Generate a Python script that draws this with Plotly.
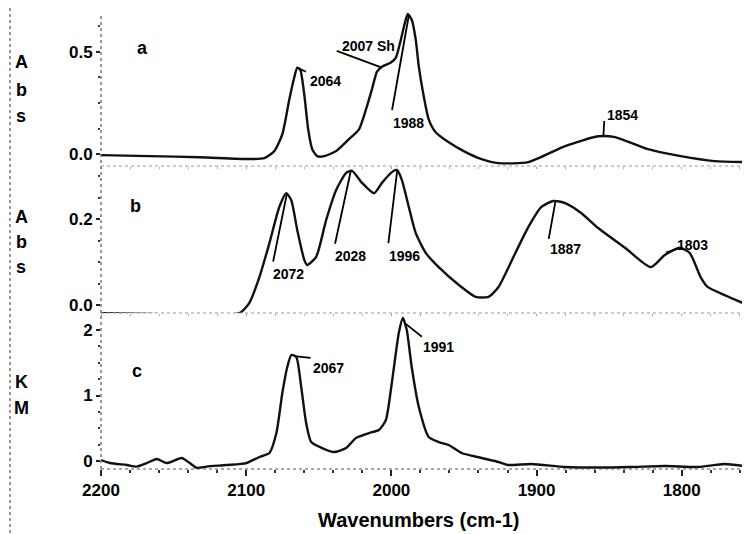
import numpy as np
import plotly.graph_objects as go

# ---------------- data ----------------
# panel a : Abs
wn_a = [2200, 2166.4, 2132.1, 2097.8, 2087.5, 2080.6, 2075.1, 2070.3, 2066.9, 2064.8,
        2062.8, 2060.0, 2057.3, 2054.5, 2051.1, 2046.3, 2038.0, 2029.2, 2022.3, 2017.5,
        2013.4, 2009.9, 2006.5, 2000.3, 1996.9, 1993.5, 1990.7, 1988.7, 1985.9, 1983.2,
        1981.1, 1977.7, 1974.3, 1969.5, 1960.5, 1948.9, 1937.9, 1926.2, 1905.7, 1880.3,
        1857.6, 1845.9, 1823.3, 1800.7, 1777.4, 1754.7]
abs_a = [-0.005, -0.010, -0.015, -0.024, -0.020, 0.015, 0.097, 0.267, 0.374, 0.422,
         0.413, 0.291, 0.121, 0.024, -0.010, -0.010, 0.015, 0.073, 0.121, 0.218,
         0.316, 0.403, 0.427, 0.447, 0.471, 0.558, 0.641, 0.684, 0.655, 0.558,
         0.427, 0.282, 0.170, 0.107, 0.058, 0.010, -0.024, -0.044, -0.039, 0.039,
         0.087, 0.083, 0.024, -0.010, -0.034, -0.039]

# panel b : Abs
wn_b = [2200, 2166.4, 2132.1, 2104.6, 2097.8, 2090.9, 2084.0, 2077.2, 2072.4, 2069.0,
        2064.8, 2060.0, 2058.0, 2051.8, 2044.9, 2038.1, 2031.2, 2027.1, 2020.2, 2012.0,
        2006.5, 1999.7, 1996.2, 1992.8, 1988.0, 1983.2, 1976.3, 1967.4, 1953.7, 1942.0,
        1933.1, 1926.2, 1914.6, 1905.7, 1896.7, 1888.5, 1880.3, 1869.3, 1857.6, 1839.1,
        1821.3, 1811.7, 1801.4, 1794.5, 1787.0, 1782.2, 1770.5, 1754.7]
abs_b = [-0.019, -0.021, -0.023, -0.019, 0.005, 0.065, 0.144, 0.228, 0.260, 0.244,
         0.174, 0.105, 0.093, 0.112, 0.198, 0.267, 0.307, 0.312, 0.284, 0.260,
         0.284, 0.309, 0.314, 0.291, 0.228, 0.167, 0.121, 0.088, 0.047, 0.019,
         0.019, 0.042, 0.121, 0.181, 0.228, 0.242, 0.237, 0.214, 0.179, 0.133,
         0.088, 0.116, 0.133, 0.121, 0.065, 0.042, 0.023, 0.000]

# panel c : KM
wn_c = [2200, 2193.8, 2182.2, 2175.3, 2168.4, 2161.6, 2154.7, 2144.4, 2138.9, 2134.1,
        2127.3, 2113.6, 2099.8, 2090.9, 2084.0, 2079.2, 2075.1, 2071.7, 2068.9, 2065.5,
        2062.1, 2058.7, 2055.2, 2047.7, 2039.5, 2031.2, 2024.4, 2015.4, 2008.6, 2003.8,
        1999.7, 1994.9, 1992.1, 1989.4, 1986.0, 1981.1, 1974.3, 1967.4, 1960.5, 1951.6,
        1937.9, 1926.2, 1919.4, 1903.6, 1880.3, 1857.6, 1835.0, 1811.7, 1789.0, 1770.5,
        1754.7]
km_c = [0.015, -0.031, -0.061, -0.085, -0.031, 0.031, -0.031, 0.046, -0.031, -0.105,
        -0.085, -0.061, -0.031, 0.061, 0.122, 0.427, 1.038, 1.435, 1.618, 1.588,
        1.130, 0.580, 0.290, 0.198, 0.137, 0.198, 0.351, 0.427, 0.473, 0.626,
        1.191, 1.954, 2.183, 2.000, 1.435, 0.824, 0.366, 0.290, 0.244, 0.122,
        0.046, -0.015, -0.061, -0.046, -0.092, -0.100, -0.092, -0.076, -0.092, -0.046,
        -0.085]

x_ticks = [2200, 2100, 2000, 1900, 1800]
y_ticks_a = [0.0, 0.5]
y_ticks_b = [0.0, 0.2]
y_ticks_c = [0, 1, 2]

# peak labels: (panel, wavenumber, text)
peak_panel = ["a", "a", "a", "a", "b", "b", "b", "b", "b", "c", "c"]
peak_wn = [2064, 2007, 1988, 1854, 2072, 2028, 1996, 1887, 1803, 2067, 1991]
peak_text = ["2064", "2007 Sh", "1988", "1854", "2072", "2028", "1996", "1887", "1803",
             "2067", "1991"]
# leader line offset (px) and text offset (px, plotly yshift is upward)
lead_ax = [9, -46, -17, 1, -14, -16, -9, -7, -13, 18, 19]
lead_ay = [4, -17, 96, -17, 69, 74, 74, 39, 4, 2, 15]
txt_dx = [27, -13, 0, 19, 2, 0, 7, 10, 15, 34, 34]
txt_dy = [-13, 21, -107, 22, -80, -85, -85, -48, 4, -12, -24]

# ---------------- figure ----------------
FONT = "Liberation Sans, Arial, sans-serif"
PAGE_OFF = 8                 # the page body adds an 8 px margin
W, H = 750 - PAGE_OFF, 534 - PAGE_OFF
L, R, T, B = 101 - PAGE_OFF, 0, 13 - PAGE_OFF, 65
pw, ph = W - L - R, H - T - B


def px_x(px):
    return (px - PAGE_OFF - L) / pw


def px_y(py):
    return (H - B - (py - PAGE_OFF)) / ph


series = {"a": (wn_a, abs_a, "x", "y"), "b": (wn_b, abs_b, "x2", "y2"),
          "c": (wn_c, km_c, "x3", "y3")}

fig = go.Figure()
for key in ["a", "b", "c"]:
    xs, ys, xa, ya = series[key]
    fig.add_trace(go.Scatter(x=xs, y=ys, xaxis=xa, yaxis=ya, mode="lines",
                             line=dict(color="#111111", width=2.4, shape="spline",
                                       smoothing=0.6),
                             hoverinfo="skip", showlegend=False))

tickfont = dict(family=FONT, size=17, color="black", weight="bold")

common_y = dict(showgrid=False, zeroline=False, showline=False, ticks="outside",
                ticklen=4, tickwidth=1.5, tickcolor="#222", tickfont=tickfont)

dom_a = [px_y(166), 1.0]
dom_b = [px_y(313), px_y(168)]
dom_c = [0.0, px_y(315)]

fig.update_layout(
    width=W, height=H, margin=dict(l=L, r=R, t=T, b=B),
    paper_bgcolor="white", plot_bgcolor="white", showlegend=False,
    xaxis3=dict(range=[2200, 1753], anchor="y3", tickvals=x_ticks,
                ticktext=[str(v) for v in x_ticks], ticks="outside", ticklen=6,
                tickwidth=1.5, tickcolor="#222", tickfont=tickfont,
                minor=dict(dtick=20, tick0=2200, ticks="outside", ticklen=3,
                           tickwidth=1.5, tickcolor="#333"),
                showgrid=False, zeroline=False, showline=False),
    xaxis=dict(matches="x3", anchor="y", showticklabels=False, ticks="outside",
               ticklen=2, tickcolor="#999", tickvals=x_ticks,
               minor=dict(dtick=20, tick0=2200, ticks="outside", ticklen=2, tickcolor="#aaa"),
               showgrid=False, zeroline=False, showline=False),
    xaxis2=dict(matches="x3", anchor="y2", showticklabels=False, ticks="outside",
                ticklen=2, tickcolor="#999", tickvals=x_ticks,
                minor=dict(dtick=20, tick0=2200, ticks="outside", ticklen=2, tickcolor="#aaa"),
                showgrid=False, zeroline=False, showline=False),
    yaxis=dict(domain=dom_a, range=[-0.058, 0.689], anchor="x",
               tickvals=y_ticks_a, ticktext=["%.1f" % v for v in y_ticks_a],
               minor=dict(dtick=0.125, tick0=0, ticks="outside", ticklen=2,
                          tickcolor="#333"), **common_y),
    yaxis2=dict(domain=dom_b, range=[-0.0186, 0.3186], anchor="x2",
                tickvals=y_ticks_b, ticktext=["%.1f" % v for v in y_ticks_b],
                minor=dict(dtick=0.05, tick0=0, ticks="outside", ticklen=2,
                           tickcolor="#333"), **common_y),
    yaxis3=dict(domain=dom_c, range=[-0.122, 2.229], anchor="x3",
                tickvals=y_ticks_c, ticktext=[str(v) for v in y_ticks_c],
                minor=dict(dtick=0.25, tick0=0, ticks="outside", ticklen=2,
                           tickcolor="#333"), **common_y),
)

# dotted frame lines
dot = dict(color="#555555", width=1.2, dash="dot")
shapes = [
    dict(type="line", xref="paper", yref="paper", x0=0, x1=0, y0=0, y1=1, line=dot),
    dict(type="line", xref="paper", yref="paper", x0=px_x(10), x1=px_x(10),
         y0=px_y(PAGE_OFF), y1=px_y(534), line=dot),
    dict(type="line", xref="paper", yref="paper", x0=0, x1=1, y0=0, y1=0, line=dot),
    dict(type="line", xref="paper", yref="paper", x0=0, x1=1, y0=dom_a[0], y1=dom_a[0],
         line=dict(color="#999999", width=1, dash="dot")),
    dict(type="line", xref="paper", yref="paper", x0=0, x1=1, y0=dom_b[0], y1=dom_b[0],
         line=dict(color="#999999", width=1, dash="dot")),
]
fig.update_layout(shapes=shapes)

annotations = []
lblfont = dict(family=FONT, size=14, color="black", weight="bold")
for pnl, w, t, ax, ay, dx, dy in zip(peak_panel, peak_wn, peak_text, lead_ax, lead_ay,
                                     txt_dx, txt_dy):
    xs, ys, xa, ya = series[pnl]
    v = float(np.interp(w, xs[::-1], ys[::-1]))
    annotations.append(dict(x=w, y=v, xref=xa, yref=ya, text="", showarrow=True,
                            arrowhead=0, arrowwidth=1.8, arrowcolor="black",
                            ax=ax, ay=ay, standoff=0, startstandoff=0))
    annotations.append(dict(x=w, y=v, xref=xa, yref=ya, text=t, showarrow=False,
                            xshift=dx, yshift=dy, font=lblfont,
                            xanchor="center", yanchor="middle"))

bigfont = dict(family=FONT, size=18, color="black", weight="bold")
for txt, px, py in [("a", 142, 48), ("b", 135, 206), ("c", 137, 371)]:
    annotations.append(dict(x=px_x(px), y=px_y(py), xref="paper", yref="paper", text=txt,
                            showarrow=False, font=bigfont, xanchor="center",
                            yanchor="middle"))
for txt, py in [("A", 62), ("b", 90), ("s", 116), ("A", 217), ("b", 242), ("s", 267),
                ("K", 382), ("M", 408)]:
    annotations.append(dict(x=px_x(21), y=px_y(py), xref="paper", yref="paper", text=txt,
                            showarrow=False, font=bigfont, xanchor="center",
                            yanchor="middle"))
annotations.append(dict(x=px_x(419), y=px_y(520), xref="paper", yref="paper",
                        text="Wavenumbers (cm-1)", showarrow=False,
                        font=dict(family=FONT, size=20, color="black", weight="bold"),
                        xanchor="center", yanchor="middle"))
fig.update_layout(annotations=annotations)

fig.write_html("out.html")
